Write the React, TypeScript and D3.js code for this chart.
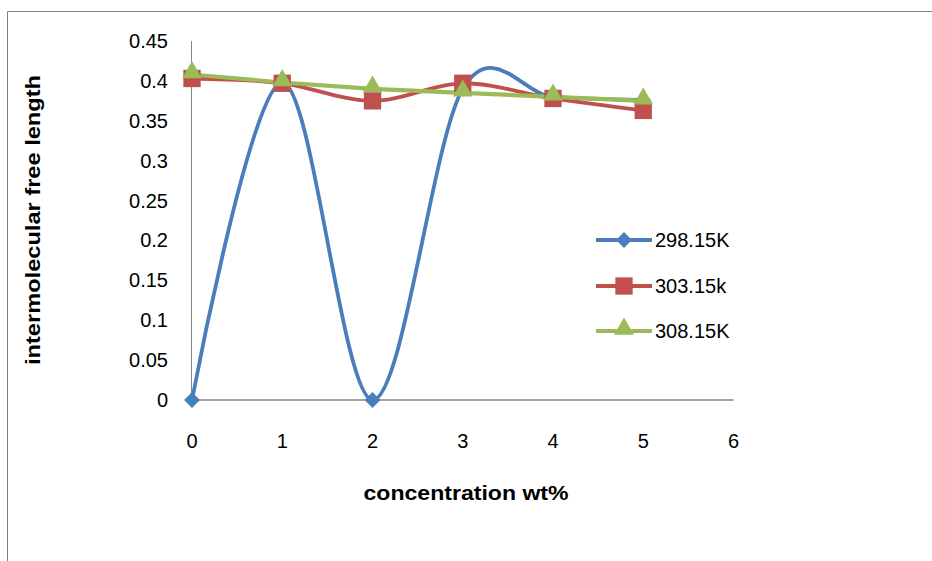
import React from "react";
import * as d3 from "d3";

const xValues = [0, 1, 2, 3, 4, 5];
const s298 = [0, 0.398, 0, 0.39, 0.38, 0.376];
const s303 = [0.403, 0.397, 0.375, 0.397, 0.378, 0.363];
const s308 = [0.408, 0.398, 0.39, 0.385, 0.38, 0.375];
const seriesNames = ["298.15K", "303.15k", "308.15K"];
const seriesColors = ["#4A7EBB", "#C0504D", "#9BBB59"];
const yTicks = [0, 0.05, 0.1, 0.15, 0.2, 0.25, 0.3, 0.35, 0.4, 0.45];
const xTicks = [0, 1, 2, 3, 4, 5, 6];

const W = 932;
const H = 561;
const FONT = "'Liberation Sans', Arial, sans-serif";

export default function App() {
  const x = d3.scaleLinear().domain([0, 6]).range([192, 733.5]);
  const y = d3.scaleLinear().domain([0, 0.45]).range([400, 41]);

  const smooth = d3
    .line<number>()
    .x((_, i) => x(xValues[i]))
    .y((d) => y(d))
    .curve(d3.curveCardinal.tension(0));
  const straight = d3
    .line<number>()
    .x((_, i) => x(xValues[i]))
    .y((d) => y(d));

  const diamond = d3.symbol().type(d3.symbolSquare).size(125)()!;
  const square = d3.symbol().type(d3.symbolSquare).size(300)()!;
  const triangle = d3.symbol().type(d3.symbolTriangle).size(170)()!;
  const markers = [diamond, square, triangle];
  const rot = [45, 0, 0];
  const dyOff = [0, 0, -2];
  const data = [s298, s303, s308];
  const paths = [smooth(s298), smooth(s303), straight(s308)];

  const legendY = [240, 286, 331];

  return (
    <svg
      width={W}
      height={H}
      style={{ position: "fixed", left: 0, top: 0, background: "#fff" }}
      fontFamily={FONT}
    >
      <rect x={0} y={0} width={W} height={H} fill="#fff" />
      {/* outer frame */}
      <line x1={7.5} y1={11.5} x2={W} y2={11.5} stroke="#7f7f7f" strokeWidth={1} />
      <line x1={7.5} y1={11.5} x2={7.5} y2={H} stroke="#7f7f7f" strokeWidth={1} />

      {/* axes */}
      <line x1={x(0) - 0.5} y1={y(0.45)} x2={x(0) - 0.5} y2={y(0)} stroke="#868686" strokeWidth={1} />
      <line x1={x(0)} y1={y(0)} x2={x(6)} y2={y(0)} stroke="#868686" strokeWidth={1.3} />

      {yTicks.map((t) => (
        <text
          key={"y" + t}
          x={168}
          y={y(t)}
          dy="0.35em"
          textAnchor="end"
          fontSize={20}
          fill="#000"
        >
          {d3.format("~g")(t)}
        </text>
      ))}
      {xTicks.map((t) => (
        <text
          key={"x" + t}
          x={x(t)}
          y={441}
          dy="0.35em"
          textAnchor="middle"
          fontSize={20}
          fill="#000"
        >
          {t}
        </text>
      ))}

      <text
        x={466}
        y={493}
        dy="0.35em"
        textAnchor="middle"
        fontSize={20}
        fontWeight="bold"
        textLength={205}
        lengthAdjust="spacingAndGlyphs"
      >
        concentration wt%
      </text>
      <text
        transform="translate(33,220) rotate(-90)"
        dy="0.35em"
        textAnchor="middle"
        fontSize={20}
        fontWeight="bold"
        textLength={290}
        lengthAdjust="spacingAndGlyphs"
      >
        intermolecular free length
      </text>

      {/* series */}
      {data.map((s, k) => (
        <path
          key={"p" + k}
          d={paths[k] || ""}
          fill="none"
          stroke={seriesColors[k]}
          strokeWidth={k === 2 ? 4.2 : 3.8}
          strokeLinejoin="round"
        />
      ))}
      {data.map((s, k) =>
        s.map((v, i) => (
          <path
            key={"m" + k + "-" + i}
            d={markers[k]}
            transform={`translate(${x(xValues[i])},${y(v) + dyOff[k]}) rotate(${rot[k]})`}
            fill={seriesColors[k]}
          />
        ))
      )}

      {/* legend */}
      {seriesNames.map((n, k) => (
        <g key={"l" + k}>
          <line
            x1={596}
            x2={652}
            y1={legendY[k]}
            y2={legendY[k]}
            stroke={seriesColors[k]}
            strokeWidth={3.8}
          />
          <path
            d={markers[k]}
            transform={`translate(624,${legendY[k] + dyOff[k]}) rotate(${rot[k]})`}
            fill={seriesColors[k]}
          />
          <text x={655} y={legendY[k]} dy="0.35em" fontSize={20} fill="#000">
            {n}
          </text>
        </g>
      ))}
    </svg>
  );
}
